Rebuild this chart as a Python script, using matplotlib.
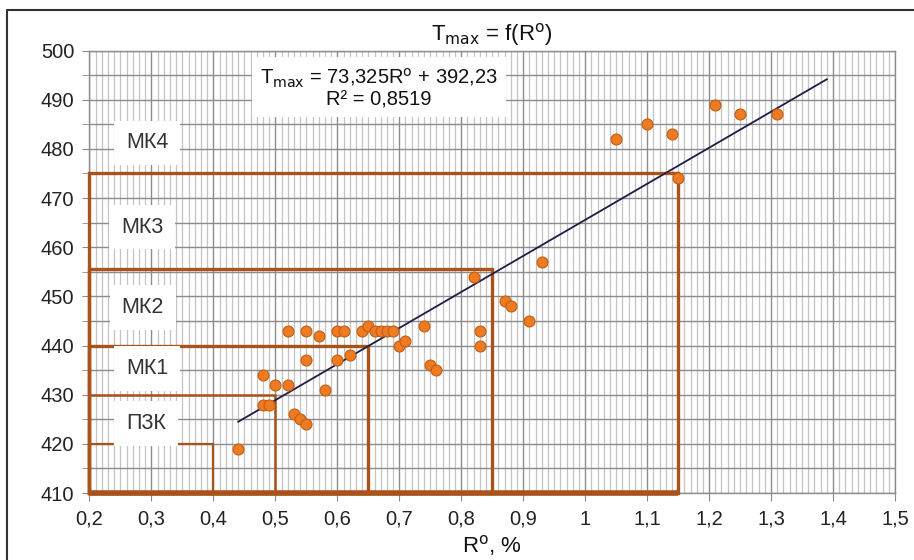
import numpy as np
import matplotlib.pyplot as plt
from matplotlib.patches import Rectangle
from matplotlib.lines import Line2D

plt.rcParams['font.family'] = ['Liberation Sans Narrow', 'Liberation Sans', 'DejaVu Sans']
plt.rcParams['mathtext.fontset'] = 'custom'
plt.rcParams['mathtext.rm'] = 'Liberation Sans Narrow'
plt.rcParams['mathtext.it'] = 'Liberation Sans Narrow'

# measured points (R°, %  vs  Tmax)
r0 = [0.44, 0.48, 0.48, 0.49, 0.50, 0.52, 0.52, 0.53, 0.54, 0.55, 0.55, 0.55,
      0.57, 0.58, 0.60, 0.60, 0.61, 0.62, 0.64, 0.65, 0.66, 0.67, 0.68, 0.69,
      0.70, 0.71, 0.74, 0.75, 0.76, 0.82, 0.83, 0.83, 0.87, 0.88, 0.91, 0.93,
      1.05, 1.10, 1.14, 1.15, 1.21, 1.25, 1.31]
tmax = [419, 434, 428, 428, 432, 432, 443, 426, 425, 424, 437, 443,
        442, 431, 437, 443, 443, 438, 443, 444, 443, 443, 443, 443,
        440, 441, 444, 436, 435, 454, 443, 440, 449, 448, 445, 457,
        482, 485, 483, 474, 489, 487, 487]

# trend line from the chart equation
slope, intercept = 73.325, 392.23
trend_x = [0.44, 1.39]

# catagenesis zones: label, right edge of R°, upper Tmax, label position
zone_names = ['П3К', 'МК1', 'МК2', 'МК3', 'МК4']
zone_right = [0.4, 0.5, 0.65, 0.85, 1.15]
zone_top = [420, 430, 440, 455.5, 475]
zone_lw = [1.6, 1.8, 2.4, 2.4, 2.4]
label_x = [0.291, 0.293, 0.286, 0.285, 0.293]
label_y = [424.1, 435.3, 447.7, 464.1, 481.2]

xticks = [0.2, 0.3, 0.4, 0.5, 0.6, 0.7, 0.8, 0.9, 1.0, 1.1, 1.2, 1.3, 1.4, 1.5]
xtick_labels = ['0,2', '0,3', '0,4', '0,5', '0,6', '0,7', '0,8', '0,9', '1',
                '1,1', '1,2', '1,3', '1,4', '1,5']
yticks = list(range(410, 501, 10))

zone_color = '#A9531B'
grid_major = '#8c8c8c'
grid_minor = '#c4c4c4'

fig = plt.figure(figsize=(9.14, 5.6), dpi=100)
ax = fig.add_axes([0.0979, 0.1196, 0.9792 - 0.0979, 0.9098 - 0.1196])

ax.set_xlim(0.2, 1.5)
ax.set_ylim(410, 500)

ax.set_xticks(xticks)
ax.set_xticklabels(xtick_labels, fontsize=14.5, color='#222222')
ax.set_xticks(np.arange(0.2, 1.5001, 0.01), minor=True)
ax.set_yticks(yticks)
ax.set_yticklabels([str(v) for v in yticks], fontsize=14.5, color='#222222')
ax.set_yticks(list(range(415, 500, 10)), minor=True)

ax.tick_params(axis='x', which='major', length=6, color=grid_major, pad=6)
ax.tick_params(axis='x', which='minor', length=0)
ax.tick_params(axis='y', which='both', length=5, color=grid_major, pad=6)

ax.grid(axis='x', which='minor', color=grid_minor, linewidth=0.9)
ax.grid(axis='x', which='major', color=grid_major, linewidth=1.0)
ax.grid(axis='y', which='both', color=grid_major, linewidth=1.0)
ax.set_axisbelow(True)

for sp in ax.spines.values():
    sp.set_color(grid_major)
    sp.set_linewidth(1.0)

# zone rectangles
for right, top, lw in zip(zone_right, zone_top, zone_lw):
    ax.add_patch(Rectangle((0.2, 410), right - 0.2, top - 410, fill=False,
                           edgecolor=zone_color, linewidth=lw, zorder=3,
                           clip_on=False))
ax.plot([0.2, 1.15], [410, 410], color=zone_color, linewidth=4,
        solid_capstyle='butt', zorder=3, clip_on=False)

# zone labels
for name, lx, ly in zip(zone_names, label_x, label_y):
    ax.text(lx, ly, name, fontsize=15.5, color='#333333', ha='center',
            va='center', zorder=4,
            bbox=dict(boxstyle='square,pad=0.55', facecolor='white',
                      edgecolor='none'))

# trend line and points
ty = [slope * v + intercept for v in trend_x]
ax.plot(trend_x, ty, color='#1f1d45', linewidth=1.3, zorder=5)
ax.scatter(r0, tmax, s=62, color='#EE7A22', edgecolors='#C25E12',
           linewidths=0.8, zorder=6)

# equation box
ax.text(0.6675, 492.4,
        'T$_{\\rm max}$ = 73,325R$^{\\rm o}$ + 392,23\nR\u00b2 = 0,8519',
        fontsize=14.5, color='#111111', ha='center', va='center',
        linespacing=1.0, zorder=4,
        bbox=dict(boxstyle='square,pad=0.4', facecolor='white',
                  edgecolor='none'))

ax.set_title('T$_{\\rm max}$ = f(R$^{\\rm o}$)', fontsize=16, color='#111111',
             pad=7)
ax.set_xlabel('R$^{\\rm o}$, %', fontsize=16, color='#111111', labelpad=3)

# outer frame
fig.add_artist(Line2D([7 / 914, 7 / 914, 1.0], [0.0, 1 - 10 / 560, 1 - 10 / 560],
                      transform=fig.transFigure, color='#333333', linewidth=1.5))

fig.savefig('out.png', dpi=100)
